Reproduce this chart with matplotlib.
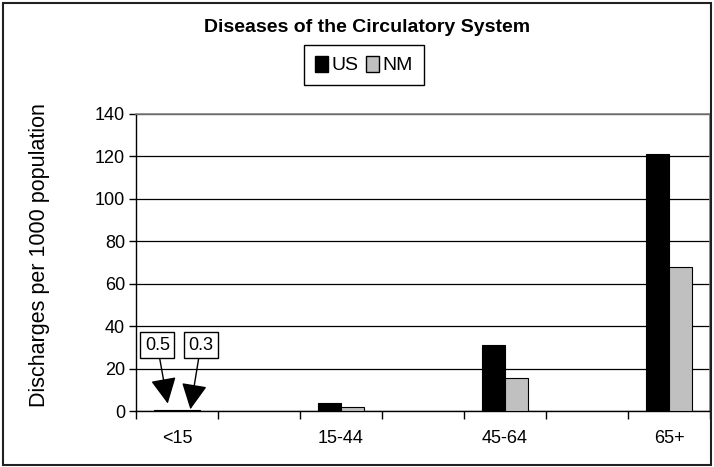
import matplotlib
matplotlib.use("Agg")
import matplotlib.pyplot as plt
from matplotlib.patches import Patch, Rectangle
import numpy as np

plt.rcParams['font.family'] = ['Liberation Sans', 'DejaVu Sans']

# age groups, with empty spacer slots between them
age_groups = ['<15', '', '15-44', '', '45-64', '', '65+']
us_rates = [0.5, 0, 3.7, 0, 31, 0, 121]
nm_rates = [0.3, 0, 2.0, 0, 15.5, 0, 68]
series_names = ['US', 'NM']
y_ticks = [0, 20, 40, 60, 80, 100, 120, 140]

fig = plt.figure(figsize=(7.14, 4.67), dpi=100)
ax = fig.add_axes([0.1905, 0.1199, 0.804, 0.636])

x = np.arange(len(age_groups)) + 0.5
w = 1 / 3.5
has_bar = [i for i, lab in enumerate(age_groups) if lab]
ax.bar(x[has_bar] - w / 2, [us_rates[i] for i in has_bar], w,
       color='black', edgecolor='black', linewidth=0.8, zorder=3)
ax.bar(x[has_bar] + w / 2, [nm_rates[i] for i in has_bar], w,
       color='#c0c0c0', edgecolor='black', linewidth=0.8, zorder=3)

ax.set_xlim(0, len(age_groups))
ax.set_ylim(0, 140)
ax.set_yticks(y_ticks)
ax.set_yticklabels([str(v) for v in y_ticks], fontsize=13)
ax.set_xticks(np.arange(len(age_groups) + 1))
ax.set_xticklabels([])
ax.set_xticks(x, labels=age_groups, minor=True, fontsize=13)
ax.tick_params(axis='x', which='minor', length=0, pad=14)
ax.tick_params(axis='x', which='major', length=6, width=1, direction='out')
ax.tick_params(axis='y', length=5, width=1, direction='out', pad=3)

ax.grid(axis='y', color='black', linewidth=0.9, zorder=0)
ax.set_axisbelow(True)
for side in ['top', 'right']:
    ax.spines[side].set_color('#808080')
    ax.spines[side].set_linewidth(1.2)
for side in ['left', 'bottom']:
    ax.spines[side].set_color('black')
    ax.spines[side].set_linewidth(1)

# value callouts for the small <15 bars
box = dict(boxstyle='square,pad=0.25', facecolor='white', edgecolor='black', linewidth=1)
arrow = dict(arrowstyle='-|>', mutation_scale=40, color='black', lw=1, shrinkA=0, shrinkB=0)
ax.annotate(f'{us_rates[0]}', xy=(x[0] - w / 2 + 0.03, 3.5), xytext=(0.26, 31),
            fontsize=13, ha='center', va='center', bbox=box, arrowprops=arrow, zorder=5)
ax.annotate(f'{nm_rates[0]}', xy=(x[0] + w / 2 + 0.02, 0.8), xytext=(0.79, 31),
            fontsize=13, ha='center', va='center', bbox=box, arrowprops=arrow, zorder=5)

fig.text(367 / 714, 1 - 28 / 467, 'Diseases of the Circulatory System',
         fontsize=14, fontweight='bold', ha='center', va='center')
fig.text(40 / 714, 1 - 255 / 467, 'Discharges per 1000 population',
         fontsize=15.5, rotation=90, ha='center', va='center')

handles = [Patch(facecolor='black', edgecolor='black'),
           Patch(facecolor='#c0c0c0', edgecolor='black')]
leg = fig.legend(handles, series_names, loc='upper center', ncol=2,
                 bbox_to_anchor=(364 / 714, 1 - 45 / 467), fontsize=14,
                 frameon=True, fancybox=False, edgecolor='black', framealpha=1,
                 handlelength=0.65, handleheight=0.9, handletextpad=0.2,
                 columnspacing=0.4, borderpad=0.55, borderaxespad=0)
leg.get_frame().set_linewidth(1)

# outer chart border
fig.patches.append(Rectangle((3 / 714, 2 / 467), 708 / 714, 462 / 467,
                             transform=fig.transFigure, fill=False,
                             edgecolor='#202020', linewidth=1.5))

fig.savefig('out.png', dpi=100)
